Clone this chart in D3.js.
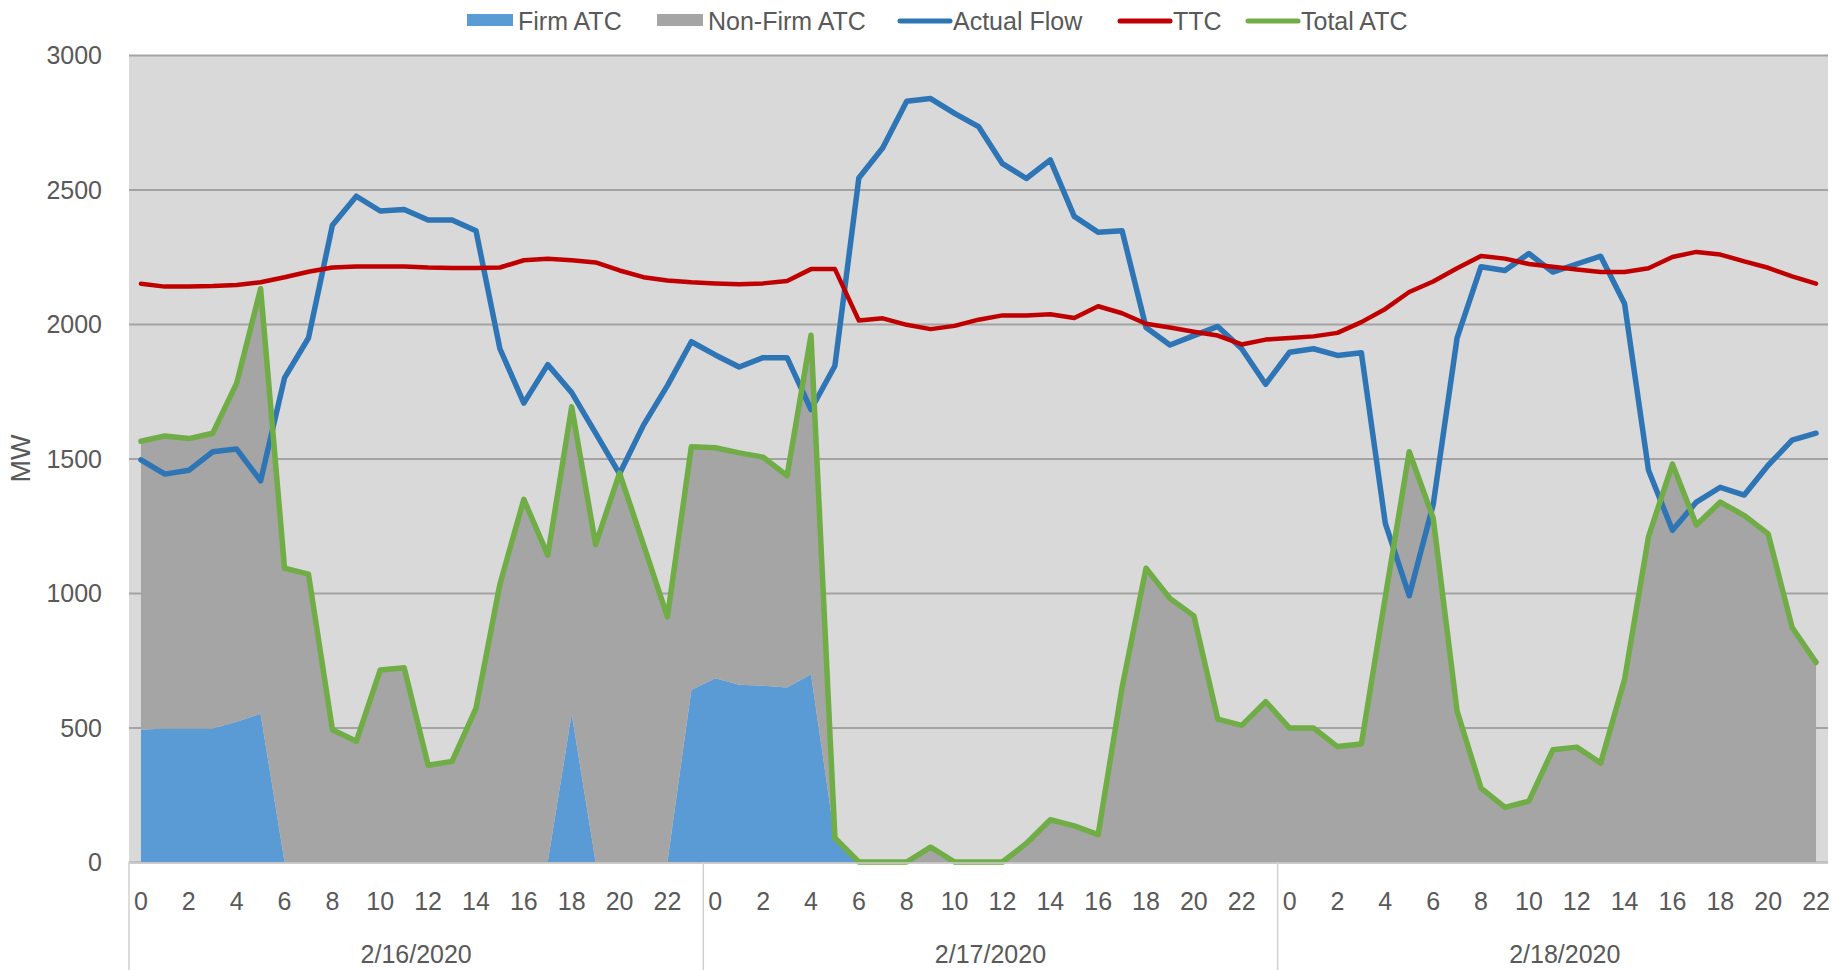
<!DOCTYPE html>
<html>
<head>
<meta charset="utf-8">
<script src="https://cdn.jsdelivr.net/npm/d3@7"></script>
<style>
  html, body { margin: 0; padding: 0; background: #ffffff; }
  svg { display: block; font-family: "Liberation Sans", Arial, sans-serif; }
</style>
</head>
<body>
<svg id="chart" width="1834" height="970"></svg>
<script>
// ---------------- DATA ----------------
const days = ["2/16/2020", "2/17/2020", "2/18/2020"];
const hoursOfDay = [0,1,2,3,4,5,6,7,8,9,10,11,12,13,14,15,16,17,18,19,20,21,22,23];
const yTicks = [0, 500, 1000, 1500, 2000, 2500, 3000];
const seriesNames = ["Firm ATC", "Non-Firm ATC", "Actual Flow", "TTC", "Total ATC"];

// hourly values, 2/16 0h ... 2/18 22h (71 points)
const firmATC = [
  492, 496, 496, 496, 521, 551, 0, 0, 0, 0, 0, 0, 0, 0, 0, 0, 0, 0, 551, 0, 0, 0, 0, 639,
  683, 659, 655, 649, 698, 85, 0, 0, 0, 0, 0, 0, 0, 0, 0, 0, 0, 0, 0, 0, 0, 0, 0, 0,
  0, 0, 0, 0, 0, 0, 0, 0, 0, 0, 0, 0, 0, 0, 0, 0, 0, 0, 0, 0, 0, 0, 0
];
const nonFirmATC = [
  1072, 1088, 1078, 1098, 1259, 1580, 1092, 1070, 492, 449, 714, 722, 360, 374, 571, 1033, 1348, 1141, 1141, 1180, 1446, 1180, 911, 905,
  857, 862, 850, 787, 1260, 4, 0, 0, 0, 55, 0, 0, 0, 69, 157, 134, 102, 649, 1092, 980, 915, 531, 508, 596,
  498, 498, 429, 439, 985, 1525, 1279, 561, 275, 203, 226, 417, 427, 368, 679, 1210, 1479, 1253, 1338, 1288, 1220, 872, 742
];
const actualFlow = [
  1495, 1442, 1456, 1525, 1535, 1417, 1800, 1948, 2367, 2475, 2420, 2426, 2387, 2387, 2347, 1908, 1706, 1849, 1745, 1594, 1443, 1624, 1771, 1934,
  1885, 1840, 1875, 1875, 1682, 1845, 2543, 2655, 2828, 2838, 2783, 2734, 2596, 2541, 2610, 2400, 2341, 2347, 1987, 1922, 1957, 1991, 1908, 1776,
  1895, 1908, 1883, 1893, 1259, 990, 1328, 1948, 2213, 2199, 2262, 2193, 2223, 2252, 2075, 1456, 1233, 1338, 1393, 1364, 1475, 1568, 1594
];
const ttc = [
  2150, 2139, 2139, 2141, 2145, 2155, 2174, 2194, 2210, 2214, 2214, 2214, 2210, 2208, 2208, 2210, 2237, 2243, 2237, 2229, 2199, 2174, 2162, 2155,
  2151, 2148, 2151, 2160, 2204, 2204, 2013, 2021, 1997, 1981, 1993, 2016, 2032, 2032, 2036, 2022, 2066, 2040, 2001, 1987, 1971, 1957, 1924, 1942,
  1948, 1954, 1967, 2007, 2056, 2119, 2158, 2207, 2253, 2243, 2223, 2213, 2203, 2193, 2193, 2207, 2249, 2268, 2258, 2233, 2209, 2177, 2150
];
const totalATC = [
  1564, 1584, 1574, 1594, 1780, 2131, 1092, 1070, 492, 449, 714, 722, 360, 374, 571, 1033, 1348, 1141, 1692, 1180, 1446, 1180, 911, 1544,
  1540, 1521, 1505, 1436, 1958, 89, 0, 0, 0, 55, 0, 0, 0, 69, 157, 134, 102, 649, 1092, 980, 915, 531, 508, 596,
  498, 498, 429, 439, 985, 1525, 1279, 561, 275, 203, 226, 417, 427, 368, 679, 1210, 1479, 1253, 1338, 1288, 1220, 872, 742
];

// ---------------- STYLE ----------------
const colors = {
  firm: "#5B9BD5", nonFirm: "#A5A5A5", flow: "#2E75B6", ttc: "#C00000", total: "#70AD47",
  plotBg: "#D9D9D9", grid: "#A3A3A3", text: "#595959", sep: "#D0D0D0"
};
const FS = 25;
const M = { left: 129, right: 1828, top: 55, bottom: 862 };
const legendSlots = [467, 657, 900, 1120, 1248];   // left edge of each legend symbol (layout)

// ---------------- SCALES ----------------
const categories = [];
days.forEach((d, di) => hoursOfDay.forEach(h => categories.push({ key: di + "-" + h, day: di, hour: h })));
const nShown = firmATC.length;
const bw = (M.right - M.left) / nShown;
const x = d3.scaleBand()
  .domain(categories.map(c => c.key))
  .range([M.left, M.left + bw * categories.length])
  .paddingInner(0).paddingOuter(0);
const xc = i => x(categories[i].key) + x.bandwidth() / 2;
const y = d3.scaleLinear().domain([0, 3000]).range([M.bottom, M.top]);

const svg = d3.select("#chart");

// plot background
svg.append("rect")
  .attr("x", M.left).attr("y", M.top)
  .attr("width", M.right - M.left).attr("height", M.bottom - M.top + 2)
  .attr("fill", colors.plotBg);

// gridlines + y labels
const yAxis = d3.axisLeft(y).tickValues(yTicks).tickSize(-(M.right - M.left)).tickPadding(27).tickFormat(d3.format("d"));
const gy = svg.append("g").attr("transform", `translate(${M.left},0)`).call(yAxis);
gy.select(".domain").remove();
gy.selectAll(".tick line").attr("stroke", colors.grid).attr("stroke-width", 1.8);
gy.selectAll(".tick text").attr("fill", colors.text).attr("font-size", FS)
  .attr("font-family", "'Liberation Sans', Arial, sans-serif").attr("dy", "0.35em");

// stacked areas
const rows = firmATC.map((f, i) => ({ firm: f, nonFirm: nonFirmATC[i] }));
const stacked = d3.stack().keys(["firm", "nonFirm"])(rows);
const area = d3.area()
  .x((d, i) => xc(i))
  .y0(d => y(d[0]))
  .y1(d => y(d[1]));
svg.append("g").selectAll("path").data(stacked).join("path")
  .attr("d", area)
  .attr("fill", d => d.key === "firm" ? colors.firm : colors.nonFirm);

// lines
const line = d3.line().x((d, i) => xc(i)).y(d => y(d)).curve(d3.curveLinear);
const lineSeries = [
  { values: actualFlow, color: colors.flow, w: 5.5 },
  { values: ttc, color: colors.ttc, w: 4.5 },
  { values: totalATC, color: colors.total, w: 5.5 }
];
svg.append("g").selectAll("path").data(lineSeries).join("path")
  .attr("d", d => line(d.values))
  .attr("fill", "none")
  .attr("stroke", d => d.color)
  .attr("stroke-width", d => d.w)
  .attr("stroke-linejoin", "round")
  .attr("stroke-linecap", "round");

// category axis (hours)
const shownCats = categories.slice(0, nShown);
const xAxis = d3.axisBottom(x)
  .tickValues(shownCats.filter(c => c.hour % 2 === 0).map(c => c.key))
  .tickSize(0).tickPadding(30)
  .tickFormat(k => categories.find(c => c.key === k).hour);
const gx = svg.append("g").attr("transform", `translate(0,${M.bottom})`).call(xAxis);
gx.select(".domain").remove();
gx.selectAll(".tick text").attr("fill", colors.text).attr("font-size", FS)
  .attr("font-family", "'Liberation Sans', Arial, sans-serif");

// axis baseline
svg.append("line")
  .attr("x1", M.left).attr("x2", M.right)
  .attr("y1", M.bottom + 1).attr("y2", M.bottom + 1)
  .attr("stroke", colors.sep).attr("stroke-width", 1.5);

// day separators and day labels
const dayStarts = days.map((d, di) => x(di + "-0"));
svg.append("g").selectAll("line").data(dayStarts).join("line")
  .attr("x1", d => d).attr("x2", d => d)
  .attr("y1", M.bottom).attr("y2", 970)
  .attr("stroke", colors.sep).attr("stroke-width", 1.5);
svg.append("g").selectAll("text").data(days).join("text")
  .attr("x", (d, di) => x(di + "-0") + x.bandwidth() * hoursOfDay.length / 2)
  .attr("y", 963)
  .attr("text-anchor", "middle")
  .attr("font-size", FS)
  .attr("fill", colors.text)
  .text(d => d);

// y axis title
svg.append("text")
  .attr("transform", `translate(30,${(M.top + M.bottom) / 2}) rotate(-90)`)
  .attr("text-anchor", "middle")
  .attr("font-size", 27)
  .attr("fill", colors.text)
  .text("MW");

// legend
const legendItems = [
  { name: seriesNames[0], type: "rect", color: colors.firm },
  { name: seriesNames[1], type: "rect", color: colors.nonFirm },
  { name: seriesNames[2], type: "line", color: colors.flow },
  { name: seriesNames[3], type: "line", color: colors.ttc },
  { name: seriesNames[4], type: "line", color: colors.total }
];
const legend = svg.append("g");
const ly = 21;
legendItems.forEach((item, k) => {
  const lx = legendSlots[k];
  const g = legend.append("g");
  let textX;
  if (item.type === "rect") {
    g.append("rect").attr("x", lx).attr("y", ly - 7).attr("width", 46).attr("height", 12).attr("fill", item.color);
    textX = lx + 51;
  } else {
    g.append("line").attr("x1", lx).attr("x2", lx + 50).attr("y1", ly).attr("y2", ly)
      .attr("stroke", item.color).attr("stroke-width", 5).attr("stroke-linecap", "round");
    textX = lx + 53;
  }
  g.append("text").attr("x", textX).attr("y", ly).attr("dy", "0.35em")
    .attr("font-size", FS).attr("fill", colors.text).text(item.name);
});
</script>
</body>
</html>
